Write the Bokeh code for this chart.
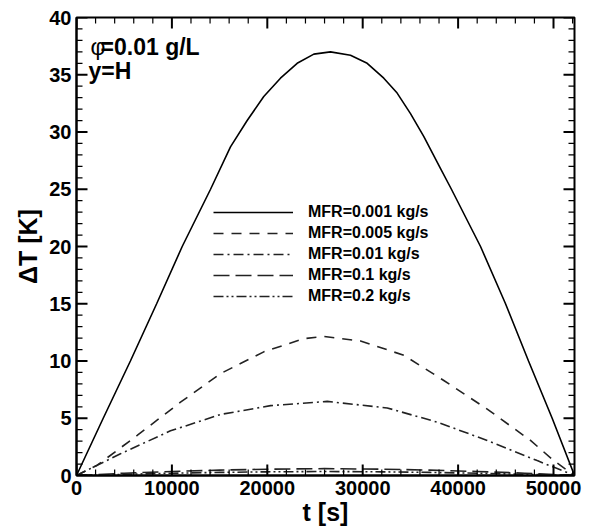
from bokeh.plotting import figure
from bokeh.models import (Range1d, SingleIntervalTicker, Legend, LegendItem, Label, Arrow,
                          ColumnDataSource)
from bokeh.embed import file_html
from bokeh.resources import INLINE

# ---- data ----
t_a = [0, 2800, 5650, 8400, 11080, 14050, 16140, 17890, 19630, 21380, 23130, 24880,
       26620, 28720, 30470, 32210, 33610, 35010, 36410, 38160, 39300, 42350, 44970,
       47380, 49860, 52200]
dT_a = [0.0, 5.0, 10.0, 15.0, 20.0, 25.0, 28.7, 31.0, 33.1, 34.7, 36.0, 36.8,
        37.0, 36.7, 36.0, 34.7, 33.4, 31.6, 29.6, 26.8, 25.0, 20.0, 15.0,
        10.0, 5.0, 0.0]

t_b = [0, 2170, 6360, 10900, 15100, 19630, 23830, 25900, 29770, 34310, 38500,
       43050, 47590, 50030, 52200]
dT_b = [0.0, 0.9, 3.5, 6.4, 8.9, 10.8, 11.95, 12.15, 11.75, 10.5, 8.3, 5.8, 3.06, 1.3, 0.0]

t_c = [0, 4610, 9850, 15100, 20340, 26280, 32570, 37810, 43050, 48290, 52200]
dT_c = [0.0, 1.9, 3.9, 5.33, 6.1, 6.47, 5.9, 4.66, 3.06, 1.3, 0.0]

t_d = [0, 5000, 10000, 15000, 20000, 26000, 32000, 37000, 42000, 47000, 52200]
dT_d = [0.0, 0.2, 0.35, 0.47, 0.55, 0.6, 0.55, 0.47, 0.35, 0.2, 0.0]

t_e = [0, 5000, 10000, 15000, 20000, 26000, 32000, 37000, 42000, 47000, 52200]
dT_e = [0.0, 0.1, 0.2, 0.27, 0.32, 0.35, 0.32, 0.27, 0.2, 0.1, 0.0]

labels = ["MFR=0.001 kg/s", "MFR=0.005 kg/s", "MFR=0.01 kg/s", "MFR=0.1 kg/s", "MFR=0.2 kg/s"]

x_major = [0.0, 10000.0, 20000.0, 30000.0, 40000.0, 50000.0]
x_minor = [float(v) for v in range(0, 52201, 2000) if v % 10000 != 0]
y_major = [0.0, 5.0, 10.0, 15.0, 20.0, 25.0, 30.0, 35.0, 40.0]
y_minor = [float(v) for v in range(0, 41) if v % 5 != 0]

X0, X1, Y0, Y1 = 0.0, 52200.0, 0.0, 40.0
FW, FH = 498, 458
FONT = "Liberation Sans"

p = figure(width=599, height=526, frame_width=FW, frame_height=FH,
           x_range=Range1d(X0, X1), y_range=Range1d(Y0, Y1),
           output_backend="svg", toolbar_location=None,
           min_border_left=76, min_border_right=25, min_border_top=17, min_border_bottom=51)
p.xgrid.visible = False
p.ygrid.visible = False
p.outline_line_color = "black"
p.outline_line_width = 2
p.outline_line_alpha = 1

r1 = p.line(t_a, dT_a, line_color="black", line_width=1.6)
r2 = p.line(t_b, dT_b, line_color="#222222", line_width=1.6, line_dash="10 8")
r3 = p.line(t_c, dT_c, line_color="#222222", line_width=1.6, line_dash="10 4 2 4")
r4 = p.line(t_d, dT_d, line_color="#222222", line_width=1.6, line_dash="16 6")
r5 = p.line(t_e, dT_e, line_color="#222222", line_width=1.6, line_dash="10 3 2 3 2 3")

# inward tick marks on all four sides (tick lengths converted from pixels to data units),
# drawn as head-less Arrow annotations
px_x = (X1 - X0) / FW
px_y = (Y1 - Y0) / FH

def tick_source(major):
    xs0, ys0, xs1, ys1 = [], [], [], []
    L = 11 if major else 6
    xv = x_major if major else x_minor
    yv = y_major if major else y_minor
    for x in xv:
        xs0 += [x, x]; xs1 += [x, x]
        ys0 += [Y0, Y1]; ys1 += [Y0 + L * px_y, Y1 - L * px_y]
    for y in yv:
        ys0 += [y, y]; ys1 += [y, y]
        xs0 += [X0, X1]; xs1 += [X0 + L * px_x, X1 - L * px_x]
    return ColumnDataSource(dict(x0=xs0, y0=ys0, x1=xs1, y1=ys1))

p.add_layout(Arrow(end=None, source=tick_source(True), x_start="x0", y_start="y0",
                   x_end="x1", y_end="y1", line_color="black", line_width=2))
p.add_layout(Arrow(end=None, source=tick_source(False), x_start="x0", y_start="y0",
                   x_end="x1", y_end="y1", line_color="black", line_width=1.2))

p.xaxis.ticker = SingleIntervalTicker(interval=10000, num_minor_ticks=5)
p.yaxis.ticker = SingleIntervalTicker(interval=5, num_minor_ticks=5)
for ax in (p.xaxis[0], p.yaxis[0]):
    ax.axis_line_width = 2
    ax.axis_line_color = "black"
    ax.major_tick_in = 0
    ax.major_tick_out = 0
    ax.minor_tick_in = 0
    ax.minor_tick_out = 0
    ax.major_label_text_font = FONT
    ax.major_label_text_font_style = "bold"
    ax.major_label_text_font_size = "20px"
    ax.major_label_text_color = "black"
    ax.axis_label_text_font = FONT
    ax.axis_label_text_font_style = "bold"
    ax.axis_label_text_font_size = "25px"
    ax.axis_label_text_color = "black"
    ax.major_label_standoff = 5
p.xaxis.axis_label = "t [s]"
p.yaxis.axis_label = "ΔT [K]"
p.xaxis.axis_label_standoff = 0
p.yaxis.axis_label_standoff = 4

legend = Legend(items=[LegendItem(label=l, renderers=[r]) for l, r in zip(labels, [r1, r2, r3, r4, r5])],
                location=(137, 169), glyph_width=80, glyph_height=20, label_height=20,
                spacing=1, padding=0, margin=0, label_standoff=15,
                label_text_font=FONT, label_text_font_style="bold", label_text_font_size="16px",
                label_text_color="black",
                border_line_color=None, background_fill_alpha=0)
p.add_layout(legend, "center")

p.add_layout(Label(x=1470, y=37.4, text="φ", text_font=FONT, text_font_size="23px",
                   text_color="black", text_baseline="alphabetic"))
p.add_layout(Label(x=2520, y=37.4, text="=0.01 g/L", text_font=FONT, text_font_size="23px",
                   text_font_style="bold", text_color="black", text_baseline="alphabetic"))
p.add_layout(Label(x=1260, y=35.3, text="y=H", text_font=FONT, text_font_size="23px",
                   text_font_style="bold", text_color="black", text_baseline="alphabetic"))

open("out.html", "w").write(file_html(p, INLINE))
